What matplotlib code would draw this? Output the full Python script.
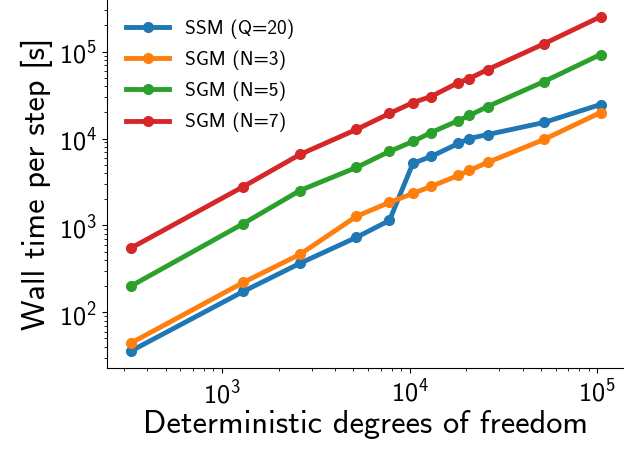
import matplotlib
matplotlib.use('Agg')
import matplotlib.pyplot as plt

plt.rcParams['font.family'] = ['cmss10', 'DejaVu Sans']
plt.rcParams['mathtext.fontset'] = 'custom'
plt.rcParams['mathtext.rm'] = 'cmss10'
plt.rcParams['mathtext.it'] = 'cmss10'
plt.rcParams['mathtext.bf'] = 'cmss10'
plt.rcParams['axes.formatter.use_mathtext'] = True

# degrees of freedom
dofs = [325, 1300, 2600, 5200, 7800, 10400, 13000, 18200, 20800, 26000, 52000, 104000]

# wall time per step [s]
ssm_q20 = [35.6, 174, 366, 728, 1140, 5170, 6210, 8770, 10000, 11100, 15300, 24600]
sgm_n3 = [44, 221, 464, 1270, 1840, 2330, 2810, 3760, 4290, 5300, 9750, 19900]
sgm_n5 = [199, 1050, 2520, 4640, 7100, 9240, 11700, 16100, 18400, 23300, 45200, 92500]
sgm_n7 = [545, 2800, 6550, 12700, 19400, 25900, 30400, 44000, 49000, 62100, 123000, 252000]

labels = ['SSM (Q=20)', 'SGM (N=3)', 'SGM (N=5)', 'SGM (N=7)']
colors = ['#1f77b4', '#ff7f0e', '#2ca02c', '#d62728']

fig = plt.figure(figsize=(6.24, 4.5), dpi=100)
ax = fig.add_axes([107 / 624, 82 / 450, 517 / 624, 368 / 450])

for series, lab, c in zip([ssm_q20, sgm_n3, sgm_n5, sgm_n7], labels, colors):
    ax.plot(dofs, series, '-o', color=c, lw=3.5, ms=7, label=lab)

ax.set_xscale('log')
ax.set_yscale('log')
ax.spines['top'].set_visible(False)
ax.spines['right'].set_visible(False)
ax.tick_params(axis='both', which='major', labelsize=19)

ax.set_xlabel('Deterministic degrees of freedom', fontsize=23.3, labelpad=2)
ax.set_ylabel('Wall time per step [s]', fontsize=23.3, labelpad=4)

ax.legend(loc='upper left', frameon=False, fontsize=14, handlelength=2.2,
          labelspacing=0.6, borderaxespad=0.6)

fig.savefig('out.png', dpi=100)
